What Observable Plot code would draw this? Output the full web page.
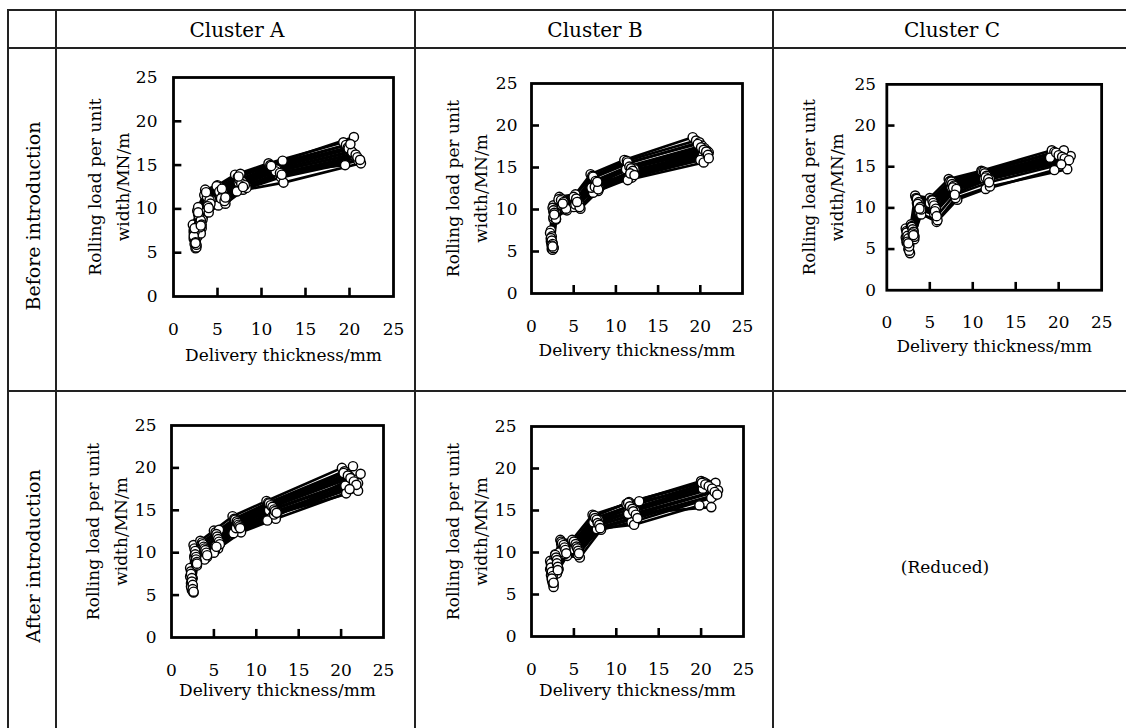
<!DOCTYPE html>
<html>
<head>
<meta charset="utf-8">
<script src="https://cdn.jsdelivr.net/npm/d3@7"></script>
<script src="https://cdn.jsdelivr.net/npm/@observablehq/plot@0.6"></script>
<style>
  html, body { margin: 0; padding: 0; background: #fff; }
  body { width: 1126px; height: 728px; position: relative; overflow: hidden; font-family: "DejaVu Serif", serif; color: #000; }
  .hl { position: absolute; height: 2px; background: #222; }
  .vl { position: absolute; width: 2px; background: #222; }
  .hdr { position: absolute; font-size: 20px; text-align: center; line-height: 1; transform: translate(-50%, -50%); white-space: nowrap; }
  .reduced { position: absolute; font-size: 17px; text-align: center; line-height: 1; transform: translate(-50%, -50%); white-space: nowrap; }
  .rowlab { position: absolute; font-size: 19px; white-space: nowrap; transform: translate(-50%, -50%) rotate(-90deg); }
  .chart { position: absolute; }
  .chart svg { overflow: visible; }
</style>
</head>
<body>
<script>
// ---------------- data ----------------
const clusters = ["Cluster A", "Cluster B", "Cluster C"];
const rowLabels = ["Before introduction", "After introduction"];
const reducedText = "(Reduced)";
const xLabel = "Delivery thickness/mm";
const yLabelLines = ["Rolling load per unit", "width/MN/m"];
const xTickValues = [0, 5, 10, 15, 20, 25];
const yTickValues = [0, 5, 10, 15, 20, 25];
const innerTicks = [5, 10, 15, 20];

// Before introduction, Cluster A: delivery thickness (mm) and rolling load (MN/m) per pass line
const beforeA_thickness = [
  [2.2,2.7,3.6,5.0,7.0,10.8,19.3],
  [2.3,2.8,3.8,5.2,7.3,11.0,19.6],
  [2.4,2.9,3.7,5.4,7.5,11.2,19.8],
  [2.3,3.0,4.0,5.6,7.7,11.4,20.0],
  [2.5,2.9,3.9,5.3,7.4,11.5,20.2],
  [2.4,3.1,4.2,5.8,7.8,11.6,20.4],
  [2.6,3.2,4.1,5.5,8.0,11.8,20.6],
  [2.5,3.0,3.6,5.7,8.2,12.0,20.8],
  [2.7,3.3,4.3,6.0,7.9,12.2,21.0],
  [2.6,3.1,4.0,5.1,7.2,12.5,21.3],
  [2.3,2.8,3.5,4.9,7.6,12.4,20.5],
  [2.5,3.0,3.9,5.9,8.3,11.9,19.5],
  [2.4,2.9,3.8,5.2,7.5,11.3,19.9],
  [2.3,3.1,4.1,5.6,7.8,11.7,20.3],
  [2.5,3.2,4.2,5.4,7.7,11.6,20.7],
  [2.6,3.0,3.9,5.8,8.1,12.1,20.9],
  [2.4,2.8,3.7,5.5,7.4,11.1,20.1],
  [2.5,3.1,4.0,5.9,7.9,12.3,21.2]
];
const beforeA_load = [
  [8.2,9.8,12.2,12.7,13.9,15.2,17.6],
  [7.6,9.4,11.8,12.5,13.6,15.0,17.3],
  [7.0,9.0,11.5,12.2,13.4,14.8,17.0],
  [6.6,8.6,11.2,12.0,13.2,14.6,16.8],
  [6.3,8.3,10.8,11.6,13.0,14.4,16.6],
  [6.0,8.0,10.5,11.4,12.8,14.2,16.3],
  [5.8,7.8,10.2,11.0,12.6,14.0,16.0],
  [5.5,7.5,10.0,10.8,12.4,13.8,15.8],
  [6.8,8.8,11.0,11.2,12.2,13.6,15.5],
  [5.6,7.2,9.6,10.4,12.0,13.0,15.2],
  [7.3,10.2,11.6,12.6,14.0,15.5,18.2],
  [6.4,8.4,10.4,10.6,12.4,14.2,15.0],
  [7.4,9.2,11.4,12.0,13.3,14.7,16.9],
  [6.9,8.7,11.0,11.5,13.1,14.5,16.5],
  [6.2,8.2,10.6,11.2,12.9,14.3,16.2],
  [5.9,7.9,10.3,10.9,12.7,14.1,15.9],
  [7.8,9.6,11.9,12.3,13.7,14.9,17.4],
  [6.1,8.1,10.1,11.3,12.5,13.9,15.6]
];

// Before introduction, Cluster B
const beforeB_thickness = [
  [2.3,2.6,3.3,5.2,7.0,11.0,19.1],
  [2.2,2.5,3.5,5.0,7.2,11.3,19.5],
  [2.4,2.7,3.6,5.4,7.4,11.5,19.9],
  [2.3,2.6,3.4,5.3,7.6,11.7,20.2],
  [2.5,2.8,3.8,5.6,7.8,12.0,20.5],
  [2.4,2.7,3.7,5.1,7.5,11.2,20.8],
  [2.5,2.9,3.9,5.5,7.7,11.8,21.0],
  [2.6,2.8,4.0,5.7,8.0,12.2,20.3],
  [2.4,2.6,4.2,5.8,7.9,11.6,20.6],
  [2.5,2.7,3.5,5.2,7.3,11.9,20.0],
  [2.3,2.8,3.2,5.4,7.1,11.4,20.4],
  [2.6,2.9,3.6,5.0,7.8,12.1,20.9],
  [2.3,2.6,3.5,5.3,7.3,11.4,19.7],
  [2.4,2.7,3.8,5.5,7.6,11.6,20.1],
  [2.5,2.8,3.6,5.6,7.7,11.8,20.4],
  [2.4,2.6,3.9,5.2,7.5,12.0,20.7],
  [2.6,2.9,4.1,5.7,7.9,11.7,20.9],
  [2.5,2.7,3.7,5.4,7.8,12.2,21.0]
];
const beforeB_load = [
  [7.5,10.5,11.5,11.8,14.2,15.9,18.6],
  [7.2,10.2,11.3,11.5,14.0,15.8,18.2],
  [6.8,9.8,11.0,11.2,13.8,15.5,18.0],
  [6.2,9.7,10.8,11.0,13.5,15.2,17.6],
  [6.0,9.4,10.6,10.8,13.2,15.0,17.3],
  [5.8,9.0,10.4,10.5,13.0,14.8,17.0],
  [5.6,8.8,10.2,10.4,12.8,14.5,16.8],
  [5.4,9.2,10.0,10.2,12.5,14.8,16.4],
  [5.3,8.9,9.9,10.1,12.2,14.0,16.2],
  [5.2,9.5,10.8,10.6,12.0,13.8,15.9],
  [6.5,10.0,11.2,11.0,12.6,13.5,15.6],
  [5.5,9.6,10.6,10.3,12.9,14.2,16.6],
  [6.6,9.9,11.1,11.3,13.9,15.6,17.8],
  [6.3,9.6,10.9,10.9,13.4,15.1,17.4],
  [5.9,9.3,10.5,10.7,13.1,14.9,17.1],
  [5.7,9.1,10.3,10.6,12.7,14.6,16.9],
  [5.4,8.9,10.1,10.3,12.4,14.3,16.5],
  [5.6,9.4,10.7,10.9,13.3,14.1,16.1]
];

// Before introduction, Cluster C
const beforeC_thickness = [
  [2.2,2.8,3.3,5.0,7.2,11.0,19.2],
  [2.3,2.9,3.4,5.2,7.4,11.2,19.5],
  [2.4,3.0,3.6,5.3,7.5,11.4,19.8],
  [2.2,2.9,3.5,5.5,7.6,11.5,20.2],
  [2.5,3.1,3.8,5.4,7.7,11.6,20.5],
  [2.3,3.0,3.7,5.6,7.8,11.3,20.8],
  [2.6,3.2,3.9,5.7,8.0,11.7,21.0],
  [2.5,3.0,4.0,5.5,7.5,11.8,21.4],
  [2.7,3.2,3.8,5.8,8.2,11.5,19.5],
  [2.6,3.1,4.0,5.9,8.0,12.0,21.0],
  [2.4,2.8,3.5,5.2,7.3,11.1,20.6],
  [2.3,3.1,3.6,5.0,7.9,12.0,19.0],
  [2.3,2.9,3.5,5.3,7.5,11.3,19.7],
  [2.4,3.0,3.7,5.4,7.6,11.4,20.0],
  [2.5,3.1,3.6,5.5,7.8,11.6,20.4],
  [2.4,3.0,3.9,5.7,7.7,11.5,20.7],
  [2.6,3.2,4.0,5.6,8.1,11.8,21.2],
  [2.5,3.1,3.8,5.8,7.9,11.9,20.3]
];
const beforeC_load = [
  [7.5,8.0,11.5,11.2,13.5,14.5,17.0],
  [7.2,7.8,11.2,11.0,13.3,14.3,16.8],
  [6.8,7.5,10.8,10.8,13.0,14.1,16.5],
  [6.4,7.2,10.6,10.5,12.8,14.0,16.3],
  [6.1,7.0,10.4,10.2,12.6,13.8,16.1],
  [5.8,6.8,10.2,9.8,12.4,13.6,15.9],
  [5.5,6.6,10.0,9.5,12.2,13.4,15.7],
  [5.0,6.4,9.7,9.3,12.5,13.7,16.3],
  [4.5,6.2,9.4,8.3,11.0,12.3,14.6],
  [4.8,6.5,9.2,8.5,11.2,12.6,14.7],
  [6.6,7.6,11.0,10.9,13.2,14.4,17.0],
  [6.0,7.3,10.5,10.6,11.8,13.5,16.1],
  [7.0,7.7,11.1,10.9,13.2,14.4,16.7],
  [6.6,7.4,10.7,10.6,12.9,14.2,16.4],
  [6.3,7.1,10.5,10.3,12.7,13.9,16.2],
  [5.9,6.9,10.1,9.9,12.5,13.7,16.0],
  [5.3,6.5,9.8,9.6,12.3,13.5,15.8],
  [5.7,6.7,9.9,9.0,11.6,13.1,15.3]
];

// After introduction, Cluster A
const afterA_thickness = [
  [2.2,2.6,3.4,5.0,7.2,11.2,20.1],
  [2.3,2.7,3.6,5.2,7.4,11.4,20.4],
  [2.2,2.8,3.5,5.3,7.5,11.6,20.7],
  [2.4,2.7,3.8,5.5,7.6,11.8,21.0],
  [2.3,2.9,3.9,5.4,7.8,12.0,21.4],
  [2.5,2.8,4.0,5.6,7.9,11.5,21.7],
  [2.4,3.0,3.7,5.7,8.0,12.2,22.0],
  [2.5,2.9,4.1,5.2,8.1,12.4,20.5],
  [2.6,3.0,4.2,5.5,7.7,11.9,21.2],
  [2.4,2.8,3.9,5.1,8.2,12.3,20.6],
  [2.5,2.9,3.6,5.0,7.3,11.3,22.3],
  [2.3,2.7,4.0,5.6,7.6,12.1,22.0],
  [2.3,2.8,3.7,5.3,7.5,11.5,20.3],
  [2.4,2.8,3.8,5.4,7.7,11.7,20.8],
  [2.4,2.9,3.9,5.5,7.8,11.9,21.1],
  [2.5,2.9,4.0,5.6,7.9,12.1,21.5],
  [2.5,3.0,4.1,5.7,8.0,12.2,21.8],
  [2.6,3.0,4.2,5.3,8.1,12.4,21.0]
];
const afterA_load = [
  [8.2,10.9,11.4,12.6,14.3,16.1,20.0],
  [7.8,10.5,11.2,12.4,14.0,15.9,19.6],
  [7.2,10.0,10.9,12.1,13.8,15.7,19.3],
  [6.8,9.6,10.6,11.8,13.6,15.5,19.0],
  [6.4,9.3,10.4,11.5,13.4,15.3,20.2],
  [6.1,9.0,10.2,11.2,13.2,15.0,18.6],
  [5.8,8.8,10.0,11.0,13.0,14.8,18.2],
  [5.5,8.6,9.8,10.8,12.8,14.6,17.9],
  [5.3,8.5,9.5,10.5,12.6,14.3,17.6],
  [5.6,9.1,9.2,10.2,12.4,14.0,17.0],
  [7.0,9.8,10.8,10.0,12.3,13.8,19.3],
  [6.0,9.4,10.1,12.7,12.9,14.5,17.3],
  [7.5,10.2,11.0,12.2,13.9,15.8,19.4],
  [7.0,9.8,10.7,11.9,13.7,15.6,19.1],
  [6.6,9.5,10.5,11.6,13.5,15.4,18.8],
  [6.2,9.2,10.3,11.3,13.3,15.1,18.4],
  [5.7,8.9,10.0,11.0,13.1,14.9,18.0],
  [5.4,8.7,9.7,10.7,12.9,14.7,17.5]
];

// After introduction, Cluster B
const afterB_thickness = [
  [2.2,2.8,3.4,4.8,7.2,11.2,20.0],
  [2.3,2.9,3.6,5.0,7.4,11.5,20.3],
  [2.2,2.7,3.5,5.1,7.5,11.7,20.6],
  [2.4,3.0,3.7,5.2,7.6,12.0,21.0],
  [2.3,2.9,3.9,5.3,7.8,12.2,21.4],
  [2.5,3.1,4.0,5.4,7.9,11.6,21.7],
  [2.4,3.0,3.8,5.5,8.0,11.9,22.0],
  [2.5,3.2,4.1,5.6,8.1,12.4,21.6],
  [2.6,3.1,4.2,5.7,8.2,11.8,21.2],
  [2.6,3.0,3.9,5.5,7.7,12.1,19.8],
  [2.5,2.8,3.3,5.0,7.3,12.7,20.2],
  [2.4,3.1,4.0,5.6,7.9,11.4,21.2],
  [2.3,2.8,3.5,5.0,7.4,11.4,20.1],
  [2.3,2.9,3.6,5.2,7.5,11.6,20.5],
  [2.4,3.0,3.8,5.3,7.7,11.9,20.9],
  [2.5,3.0,3.9,5.4,7.8,12.0,21.3],
  [2.4,3.1,4.0,5.5,8.0,12.3,21.6],
  [2.6,3.1,4.1,5.6,8.1,12.5,21.9]
];
const afterB_load = [
  [9.0,9.8,11.5,11.5,14.5,15.8,18.5],
  [8.5,9.6,11.2,11.2,14.3,16.0,18.4],
  [8.0,9.3,11.0,11.0,14.0,15.6,18.2],
  [7.6,9.0,10.8,10.8,13.8,15.3,18.0],
  [7.3,8.8,10.6,10.6,13.6,15.0,17.8],
  [7.0,8.5,10.4,10.4,13.4,14.8,18.3],
  [6.8,8.2,10.2,10.2,13.2,14.6,17.4],
  [6.5,8.0,10.0,10.0,13.0,14.3,16.8],
  [6.2,7.8,9.6,9.4,12.7,13.6,16.5],
  [5.9,7.5,9.8,9.7,12.8,13.3,15.6],
  [6.4,8.6,10.0,10.4,13.6,16.1,17.6],
  [7.8,9.2,10.5,10.3,13.9,14.6,15.4],
  [8.7,9.7,11.3,11.3,14.4,15.9,18.3],
  [8.2,9.4,11.1,11.0,14.1,15.5,18.1],
  [7.7,9.1,10.9,10.7,13.9,15.2,17.9],
  [7.2,8.7,10.6,10.5,13.5,14.9,17.6],
  [6.9,8.3,10.3,10.2,13.3,14.5,17.2],
  [6.4,7.9,9.9,9.9,12.9,14.1,16.9]
];

// ---------------- layout helpers ----------------
function tidy(th, ld) {
  return th.flatMap((xs, i) => xs.map((x, j) => ({x, y: ld[i][j], line: i})));
}

function hline(x, y, w) {
  const d = document.createElement("div");
  d.className = "hl"; d.style.left = x + "px"; d.style.top = (y - 1) + "px"; d.style.width = w + "px";
  document.body.appendChild(d);
}
function vline(x, y, h) {
  const d = document.createElement("div");
  d.className = "vl"; d.style.left = (x - 1) + "px"; d.style.top = y + "px"; d.style.height = h + "px";
  document.body.appendChild(d);
}
function label(cls, text, x, y) {
  const d = document.createElement("div");
  d.className = cls; d.textContent = text; d.style.left = x + "px"; d.style.top = y + "px";
  document.body.appendChild(d);
}

// table grid
hline(7, 10, 1126);
hline(7, 48, 1126);
hline(7, 391, 1126);
vline(8, 10, 728);
vline(56, 10, 728);
vline(415, 10, 728);
vline(773, 10, 728);

label("hdr", clusters[0], 237, 30);
label("hdr", clusters[1], 595, 30);
label("hdr", clusters[2], 952, 30);
label("rowlab", rowLabels[0], 33, 216);
label("rowlab", rowLabels[1], 33, 556);
label("reduced", reducedText, 945, 567);

function panel(th, ld, f, opt) {
  const ml = 120, mt = 20, mr = 25, mb = 85;
  const w = ml + (f.R - f.L) + mr, h = mt + (f.B - f.T) + mb;
  const data = tidy(th, ld);
  const chart = Plot.plot({
    width: w, height: h,
    marginLeft: ml, marginRight: mr, marginTop: mt, marginBottom: mb,
    style: {fontFamily: "DejaVu Serif", fontSize: "17px", color: "#000", background: "transparent", overflow: "visible"},
    x: {domain: [0, 25]},
    y: {domain: [0, 25]},
    marks: [
      Plot.axisX({ticks: xTickValues, tickSize: 0, tickPadding: 26, label: null, fontSize: 17, tickFormat: d => String(d)}),
      Plot.axisY({ticks: yTickValues, tickSize: 0, tickPadding: opt.yPad, label: null, fontSize: 17, tickFormat: d => String(d)}),
      Plot.ruleX(innerTicks, {x: d => d, y1: 0, y2: 0.95, stroke: "#000", strokeWidth: 2.6}),
      Plot.ruleY(innerTicks, {y: d => d, x1: 0, x2: 0.95, stroke: "#000", strokeWidth: 2.6}),
      Plot.line(data, {x: "x", y: "y", z: "line", stroke: "#000", strokeWidth: 2.6}),
      Plot.dot(data, {x: "x", y: "y", r: 4.6, fill: "#fff", stroke: "#000", strokeWidth: 1.4}),
      Plot.frame({stroke: "#000", strokeWidth: 2.8}),
      Plot.text([xLabel], {text: d => d, frameAnchor: "bottom", dy: opt.xLabDy, fontSize: 17, fill: "#000"}),
      Plot.text([yLabelLines[0]], {text: d => d, frameAnchor: "left", textAnchor: "middle", lineAnchor: "middle", dx: -78, rotate: -90, fontSize: 17, fill: "#000"}),
      Plot.text([yLabelLines[1]], {text: d => d, frameAnchor: "left", textAnchor: "middle", lineAnchor: "middle", dx: -50, rotate: -90, fontSize: 17, fill: "#000"})
    ]
  });
  const wrap = document.createElement("div");
  wrap.className = "chart";
  wrap.style.left = (f.L - ml) + "px";
  wrap.style.top = (f.T - mt) + "px";
  wrap.appendChild(chart);
  document.body.appendChild(wrap);
}

panel(beforeA_thickness, beforeA_load, {L: 173, R: 393, T: 77, B: 296}, {yPad: 16, xLabDy: 64});
panel(beforeB_thickness, beforeB_load, {L: 531, R: 742, T: 83, B: 293}, {yPad: 14, xLabDy: 62});
panel(beforeC_thickness, beforeC_load, {L: 887, R: 1103, T: 84, B: 291}, {yPad: 11, xLabDy: 62});
panel(afterA_thickness, afterA_load, {L: 171, R: 383, T: 425, B: 637}, {yPad: 15, xLabDy: 58});
panel(afterB_thickness, afterB_load, {L: 531, R: 743, T: 426, B: 636}, {yPad: 15, xLabDy: 59});
</script>
</body>
</html>
